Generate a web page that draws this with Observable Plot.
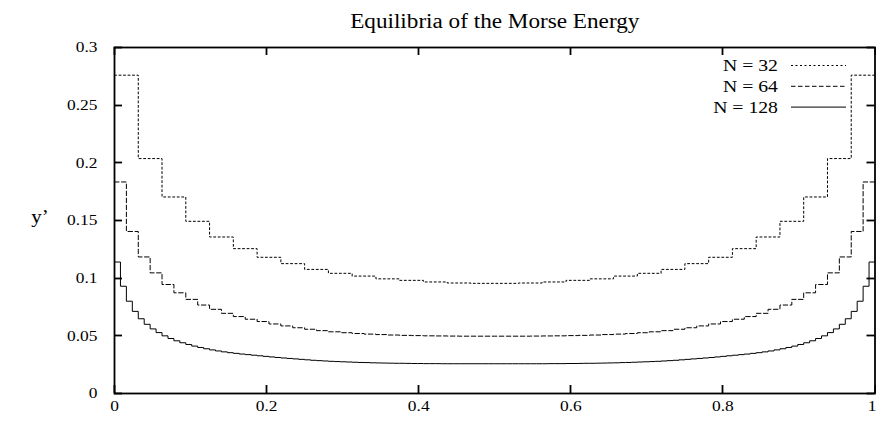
<!DOCTYPE html>
<html><head><meta charset="utf-8">
<script src="https://cdn.jsdelivr.net/npm/d3@7"></script>
<script src="https://cdn.jsdelivr.net/npm/@observablehq/plot@0.6"></script>
<style>html,body{margin:0;padding:0;background:#fff}svg{display:block}</style>
</head><body><div id="chart"></div>
<script>
const title = "Equilibria of the Morse Energy";
const yLabel = "y\u2019";
const seriesNames = ["N = 32", "N = 64", "N = 128"];
const seriesDash = ["2,2.5", "4.5,2.5", null];
const xTicks = [0, 0.2, 0.4, 0.6, 0.8, 1];
const xTickLabels = ["0", "0.2", "0.4", "0.6", "0.8", "1"];
const yTicks = [0, 0.05, 0.1, 0.15, 0.2, 0.25, 0.3];
const yTickLabels = ["0", "0.05", "0.1", "0.15", "0.2", "0.25", "0.3"];

const n32 = [
  0.276, 0.2037, 0.1704, 0.1493, 0.1357, 0.1256, 0.1181, 0.1126, 0.1076, 0.1042, 0.1018, 0.0994, 0.0981, 0.0967, 0.0958, 0.0955,
  0.0955, 0.0958, 0.0967, 0.0981, 0.0994, 0.1018, 0.1042, 0.1076, 0.1126, 0.1181, 0.1256, 0.1357, 0.1493, 0.1704, 0.2037, 0.276
];
const n64 = [
  0.1834, 0.1405, 0.1184, 0.1046, 0.0945, 0.0873, 0.0816, 0.0767, 0.0730, 0.0695, 0.0667, 0.0644, 0.0624, 0.0603, 0.0586, 0.0570,
  0.0557, 0.0545, 0.0535, 0.0527, 0.0520, 0.0515, 0.0511, 0.0507, 0.0504, 0.0502, 0.0500, 0.0499, 0.0498, 0.0497, 0.0497, 0.0497,
  0.0497, 0.0497, 0.0497, 0.0498, 0.0499, 0.0500, 0.0502, 0.0504, 0.0507, 0.0511, 0.0515, 0.0520, 0.0527, 0.0535, 0.0545, 0.0557,
  0.0570, 0.0586, 0.0603, 0.0624, 0.0644, 0.0667, 0.0695, 0.0730, 0.0767, 0.0816, 0.0873, 0.0945, 0.1046, 0.1184, 0.1405, 0.1834
];
const n128 = [
  0.114, 0.093, 0.080, 0.0712, 0.0648, 0.0600, 0.0560, 0.0528, 0.0500, 0.0477,
  0.0457, 0.0440, 0.0425, 0.0411, 0.0399, 0.0388, 0.0378, 0.0369, 0.0361, 0.0354,
  0.0348, 0.0342, 0.0337, 0.0332, 0.0327, 0.0322, 0.0317, 0.0312, 0.0308, 0.0304,
  0.0300, 0.0296, 0.0292, 0.0288, 0.0285, 0.0282, 0.0279, 0.0277, 0.0275, 0.0273,
  0.0271, 0.0269, 0.0268, 0.0266, 0.0265, 0.0264, 0.0263, 0.0262, 0.0262, 0.0261,
  0.0260, 0.0260, 0.0259, 0.0259, 0.0259, 0.0258, 0.0258, 0.0258, 0.0258, 0.0258,
  0.0258, 0.0258, 0.0258, 0.0258,
  0.0258, 0.0258, 0.0258, 0.0258, 0.0258, 0.0258, 0.0258, 0.0258, 0.0258, 0.0259,
  0.0259, 0.0259, 0.0260, 0.0260, 0.0261, 0.0262, 0.0262, 0.0263, 0.0264, 0.0265,
  0.0266, 0.0268, 0.0269, 0.0271, 0.0273, 0.0275, 0.0277, 0.0279, 0.0282, 0.0285,
  0.0288, 0.0292, 0.0296, 0.0300, 0.0304, 0.0308, 0.0312, 0.0317, 0.0322, 0.0327,
  0.0332, 0.0337, 0.0342, 0.0348, 0.0354, 0.0361, 0.0369, 0.0378, 0.0388, 0.0399,
  0.0411, 0.0425, 0.0440, 0.0457, 0.0477, 0.0500, 0.0528, 0.0560, 0.0600, 0.0648,
  0.0712, 0.080, 0.093, 0.114
];
const seriesValues = [n32, n64, n128];

// step rows: each bin starts at i/N; final point closes the last bin at x = 1
function stepRows(vals, name) {
  const N = vals.length;
  const rows = vals.map((v, i) => ({x: i / N, y: v, s: name}));
  rows.push({x: 1, y: vals[N - 1], s: name});
  return rows;
}

const FONT = "'Liberation Serif', 'Times New Roman', Times, serif";
const STRETCH = 1.16;
const W = 876, H = 422, MT = 47, MB = 29, ML = 114, MR = 1.5;
const TICK = 8;

const lineMarks = seriesValues.map((vals, k) =>
  Plot.line(stepRows(vals, seriesNames[k]), {
    x: "x", y: "y", curve: "step-after", stroke: "black", strokeWidth: 1,
    strokeDasharray: seriesDash[k] || undefined
  })
);

const chart = Plot.plot({
  width: W, height: H,
  marginTop: MT, marginBottom: MB, marginLeft: ML, marginRight: MR,
  style: {fontFamily: FONT, fontSize: "15px", color: "black", background: "white", overflow: "visible"},
  x: {domain: [0, 1]},
  y: {domain: [0, 0.3]},
  marks: [
    ...lineMarks,
    Plot.frame({stroke: "black", strokeWidth: 1.8}),
    Plot.axisX(xTicks, {anchor: "bottom", tickSize: 0, tickPadding: 7, label: null,
      tickFormat: d => xTickLabels[xTicks.indexOf(d)], fontSize: 15}),
    Plot.axisY(yTicks, {anchor: "left", tickSize: 0, tickPadding: 17, label: null,
      tickFormat: d => yTickLabels[yTicks.indexOf(d)], fontSize: 15}),
    Plot.text([title], {frameAnchor: "top", dy: -34, fontSize: 20, text: d => d})
  ]
});

const svg = d3.select(chart);
let sxf, syf;
try {
  const sx = chart.scale("x"), sy = chart.scale("y");
  if (sx && typeof sx.apply === "function") { sxf = v => sx.apply(v); syf = v => sy.apply(v); }
  else { sxf = d3.scaleLinear(sx.domain, sx.range); syf = d3.scaleLinear(sy.domain, sy.range); }
} catch (e) {
  sxf = d3.scaleLinear([0, 1], [ML, W - MR]); syf = d3.scaleLinear([0, 0.3], [H - MB, MT]);
}
const fx0 = ML, fx1 = W - MR, fy0 = MT, fy1 = H - MB;

// inward tick marks on all four sides, placed with Plot's scales
const tg = svg.append("g").attr("stroke", "black").attr("stroke-width", 1.8);
yTicks.forEach(v => {
  const py = Math.round(syf(v)) + 0.5;
  tg.append("line").attr("x1", fx0).attr("x2", fx0 + TICK).attr("y1", py).attr("y2", py);
  tg.append("line").attr("x1", fx1 - TICK).attr("x2", fx1).attr("y1", py).attr("y2", py);
});
xTicks.forEach(v => {
  const px = Math.round(sxf(v)) + 0.5;
  tg.append("line").attr("x1", px).attr("x2", px).attr("y1", fy1).attr("y2", fy1 - TICK);
  tg.append("line").attr("x1", px).attr("x2", px).attr("y1", fy0).attr("y2", fy0 + TICK);
});

// y label
svg.append("text").attr("x", 40).attr("y", 217).attr("dy", "0.35em")
  .attr("text-anchor", "middle").attr("font-size", 18).attr("font-family", FONT).text(yLabel);

// legend (top-right, inside frame)
const lg = svg.append("g").attr("font-family", FONT).attr("font-size", 17);
seriesNames.forEach((name, k) => {
  const yy = 65.5 + k * 20.8;
  lg.append("text").attr("x", 778).attr("y", yy).attr("dy", "0.35em")
    .attr("text-anchor", "end").text(name);
  lg.append("line").attr("x1", 791).attr("x2", 846).attr("y1", yy).attr("y2", yy)
    .attr("stroke", "black").attr("stroke-width", 1)
    .attr("stroke-dasharray", seriesDash[k]);
});

document.getElementById("chart").appendChild(chart);

// horizontal stretch of glyphs, as in the reference raster
svg.selectAll("text").each(function() {
  const t = d3.select(this);
  if (!t.text()) return;
  const x = +(t.attr("x") || 0);
  const tr = t.attr("transform") || "";
  t.attr("transform", `${tr} translate(${x},0) scale(${STRETCH},1) translate(${-x},0)`);
});

// keep the last x tick label ("1") inside the picture
svg.selectAll("g[aria-label='x-axis tick label'] text").each(function() {
  const t = d3.select(this);
  if (t.text() === xTickLabels[xTickLabels.length - 1]) {
    t.attr("text-anchor", "end");
    t.attr("transform", (t.attr("transform") || "") + " translate(1.2,0)");
  }
});
</script>
</body></html>
